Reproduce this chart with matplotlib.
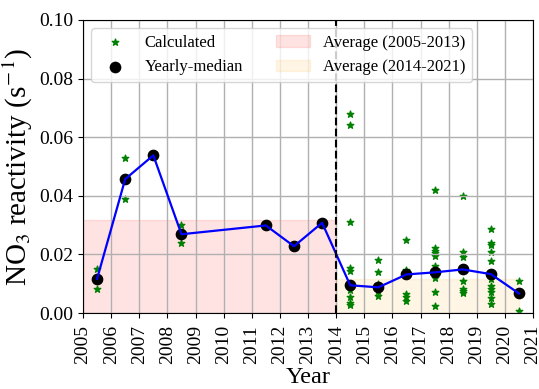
import matplotlib
matplotlib.use("Agg")
import matplotlib.pyplot as plt
import numpy as np

plt.rcParams["font.family"] = ["Liberation Serif", "DejaVu Serif"]
plt.rcParams["mathtext.fontset"] = "stix"

# yearly medians of NO3 reactivity (s^-1)
median_years = [2005, 2006, 2007, 2008, 2011, 2012, 2013,
                2014, 2015, 2016, 2017, 2018, 2019, 2020]
median_vals = [0.0117, 0.0457, 0.0538, 0.0269, 0.0299, 0.0228, 0.0308,
               0.0095, 0.0088, 0.0132, 0.0139, 0.0149, 0.0133, 0.0067]

# individual calculated values per year
calc = {
    2005: [0.0149, 0.0083],
    2006: [0.0528, 0.0388],
    2007: [0.0538],
    2008: [0.0299, 0.0238],
    2011: [0.0299],
    2012: [0.0228],
    2013: [0.0308],
    2014: [0.068, 0.064, 0.031, 0.0153, 0.0145, 0.0100, 0.0078, 0.0056, 0.0035, 0.0028],
    2015: [0.0181, 0.0140, 0.0100, 0.0088, 0.0074, 0.0058],
    2016: [0.0250, 0.0148, 0.0136, 0.0066, 0.0054, 0.0043],
    2017: [0.0419, 0.0222, 0.0212, 0.0204, 0.0196, 0.0160, 0.0139, 0.0121, 0.0073, 0.0023],
    2018: [0.0400, 0.0210, 0.0191, 0.0149, 0.0110, 0.0084, 0.0077, 0.0070],
    2019: [0.0287, 0.0240, 0.0233, 0.0208, 0.0177, 0.0133, 0.0116, 0.0093,
           0.0082, 0.0071, 0.0053, 0.0032],
    2020: [0.0111, 0.0067, 0.0006],
}

split_year = 2014
x_med = np.array(median_years) + 0.5
y_med = np.array(median_vals)
avg_early = y_med[np.array(median_years) < split_year].mean()
avg_late = y_med[np.array(median_years) >= split_year].mean()

calc_x = np.concatenate([[yr + 0.5] * len(v) for yr, v in calc.items()])
calc_y = np.concatenate([v for v in calc.values()])

fig = plt.figure(figsize=(5.39, 3.89), dpi=100)
ax = fig.add_axes([0.154, 0.195, 0.835, 0.754])

f1 = ax.fill_between([2005, split_year], 0, avg_early, color="red", alpha=0.11,
                     label="Average (2005-2013)")
f2 = ax.fill_between([split_year, x_med[-1]], 0, avg_late, color="orange", alpha=0.1,
                     label="Average (2014-2021)")
s1 = ax.scatter(calc_x, calc_y, marker="*", s=24, color="green", label="Calculated")
s2 = ax.scatter(x_med, y_med, s=55, color="black", label="Yearly-median")
ax.plot(x_med, y_med, color="blue", lw=1.6)
ax.axvline(split_year, color="black", ls="--", lw=1.5)

ax.set_xlim(2005, 2021)
ax.set_ylim(0, 0.1)
ax.set_xticks(np.arange(2005, 2022))
ax.set_yticks(np.arange(0, 0.101, 0.02))
ax.set_yticklabels([f"{v:.2f}" for v in np.arange(0, 0.101, 0.02)])
ax.tick_params(axis="x", labelrotation=90, labelsize=14, pad=5)
ax.tick_params(axis="y", labelsize=14)
ax.grid(True, color="#b0b0b0", lw=1.0)

ax.set_xlabel("Year", fontsize=17.5, labelpad=2)
ax.set_ylabel(r"NO$_3$ reactivity (s$^{-\,1}$)", fontsize=21, labelpad=3)

ax.legend(handles=[s1, s2, f1, f2], ncol=2, loc="upper left", fontsize=12)

fig.savefig("out.png", dpi=100)
